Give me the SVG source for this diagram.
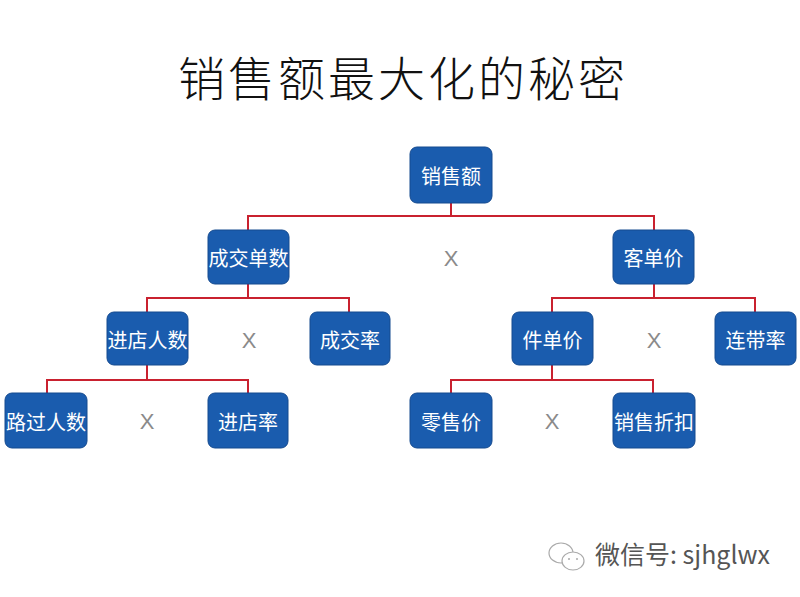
<svg xmlns="http://www.w3.org/2000/svg" width="800" height="597" viewBox="0 0 800 597">
<style>
.node rect{fill:#1a5cae;stroke:#154a8f;stroke-width:1}
.node text{fill:#ffffff;font-family:"Noto Sans CJK SC","Noto Sans CJK JP",sans-serif;font-size:20px;text-anchor:middle;dominant-baseline:central}
.conn path{fill:none;stroke:#c9212f;stroke-width:2}
.x{fill:#8a8a8a;font-family:"Liberation Sans","DejaVu Sans",sans-serif;font-size:22px;text-anchor:middle;dominant-baseline:central}
.title{fill:#111;font-family:"Noto Sans CJK SC","Noto Sans CJK JP",sans-serif;font-size:47px;font-weight:300;text-anchor:middle;letter-spacing:3px}
.wm{fill:#555;font-family:"Noto Sans CJK SC","Liberation Sans",sans-serif;font-size:25px}
</style>
<rect width="800" height="597" fill="#ffffff"/>
<text class="title" x="403" y="96">销售额最大化的秘密</text>
<g class="conn">
<path d="M451 203V216M248 230V216H654V230"/>
<path d="M248 284V298M147 312V298H349V312"/>
<path d="M654 284V298M552 312V298H755V312"/>
<path d="M147 365V380M47 393V380H248V393"/>
<path d="M552 365V380M451 393V380H653V393"/>
</g>
<g id="n-xse" class="node"><rect x="410" y="147" width="82" height="56" rx="7"/><text x="451" y="175">销售额</text></g>
<g id="n-cjds" class="node"><rect x="208" y="230" width="81" height="54" rx="7"/><text x="248.5" y="257">成交单数</text></g>
<g id="n-kdj" class="node"><rect x="613" y="230" width="81" height="54" rx="7"/><text x="653.5" y="257">客单价</text></g>
<g id="n-jdrs" class="node"><rect x="107" y="312" width="81" height="53" rx="7"/><text x="147.5" y="339">进店人数</text></g>
<g id="n-cjl" class="node"><rect x="310" y="312" width="80" height="53" rx="7"/><text x="350" y="339">成交率</text></g>
<g id="n-jdj" class="node"><rect x="512" y="312" width="81" height="53" rx="7"/><text x="552.5" y="339">件单价</text></g>
<g id="n-ldl" class="node"><rect x="715" y="312" width="81" height="53" rx="7"/><text x="755.5" y="339">连带率</text></g>
<g id="n-lgrs" class="node"><rect x="5" y="393" width="82" height="55" rx="7"/><text x="46" y="421">路过人数</text></g>
<g id="n-jdl" class="node"><rect x="208" y="393" width="80" height="55" rx="7"/><text x="248" y="421">进店率</text></g>
<g id="n-lsj" class="node"><rect x="410" y="393" width="82" height="55" rx="7"/><text x="451" y="421">零售价</text></g>
<g id="n-xszk" class="node"><rect x="613" y="393" width="82" height="55" rx="7"/><text x="654" y="421">销售折扣</text></g>
<text class="x" x="451" y="258">X</text>
<text class="x" x="249" y="340">X</text>
<text class="x" x="654" y="340">X</text>
<text class="x" x="147" y="421">X</text>
<text class="x" x="552" y="421">X</text>
<g id="wechat" fill="#fff" stroke="#aaa" stroke-width="1.2">
<ellipse cx="561" cy="553" rx="12" ry="10"/>
<ellipse cx="573" cy="561" rx="11" ry="9"/>
<circle cx="569" cy="559" r="1" fill="#aaa" stroke="none"/>
<circle cx="577" cy="559" r="1" fill="#aaa" stroke="none"/>
</g>
<text class="wm" x="595" y="564">微信号: sjhglwx</text>
</svg>
